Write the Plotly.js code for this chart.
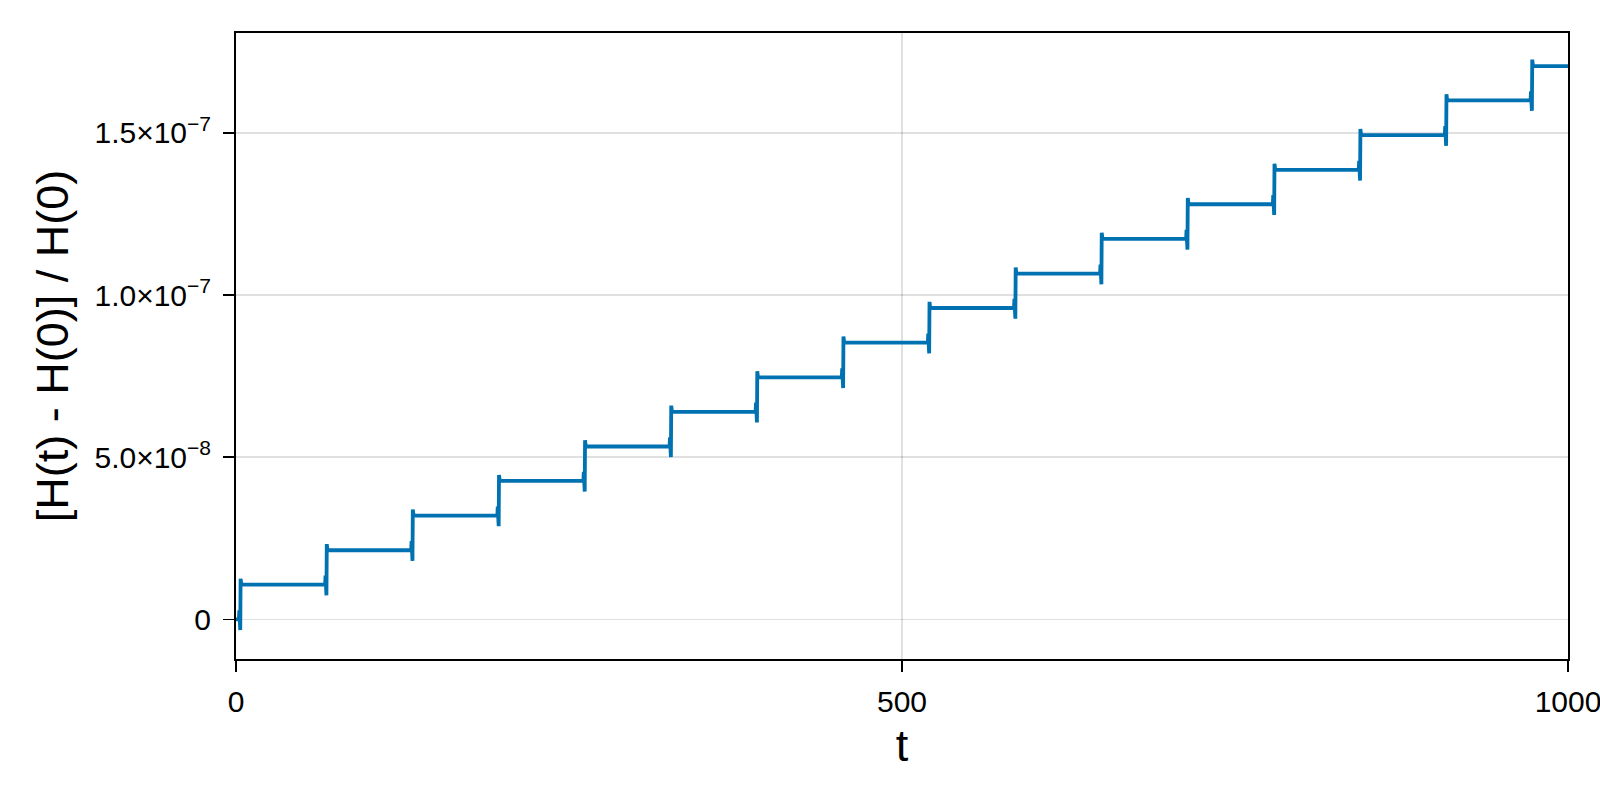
<!DOCTYPE html>
<html>
<head>
<meta charset="utf-8">
<script src="https://cdn.plot.ly/plotly-3.0.1.min.js"></script>
<style>
	html, body { margin: 0; padding: 0; background: #ffffff; }
	#energy_graph { width: 1600px; height: 800px; }
</style>
</head>
<body>
<div id="energy_graph"></div>
<script>
// Relative energy error

// time of each jump (16 jumps)
const step_times = [3.2, 67.9, 132.5, 197.2, 261.8, 326.5, 391.1, 455.8,
	520.4, 585.1, 649.7, 714.3, 779.4, 843.9, 908.5, 972.9];

// plateau levels: before the first jump, then after each jump
const levels = [0, 1.07e-8, 2.13e-8, 3.2e-8, 4.27e-8, 5.33e-8, 6.4e-8, 7.46e-8,
	8.53e-8, 9.6e-8, 1.066e-7, 1.173e-7, 1.28e-7, 1.386e-7, 1.493e-7, 1.6e-7, 1.706e-7];

// small bump just before each jump
const bump_values = [2.8e-9, 1.35e-8, 2.41e-8, 3.48e-8, 4.55e-8, 5.61e-8, 6.68e-8, 7.74e-8,
	8.81e-8, 9.88e-8, 1.094e-7, 1.201e-7, 1.308e-7, 1.414e-7, 1.521e-7, 1.628e-7];

// lowest point of each jump
const dip_values = [-3.3e-9, 7.4e-9, 1.8e-8, 2.87e-8, 3.94e-8, 5.0e-8, 6.07e-8, 7.13e-8,
	8.2e-8, 9.27e-8, 1.033e-7, 1.14e-7, 1.247e-7, 1.353e-7, 1.46e-7, 1.568e-7];

// highest point of each jump
const peak_values = [1.25e-8, 2.32e-8, 3.39e-8, 4.45e-8, 5.52e-8, 6.59e-8, 7.65e-8, 8.72e-8,
	9.79e-8, 1.085e-7, 1.192e-7, 1.299e-7, 1.405e-7, 1.512e-7, 1.619e-7, 1.726e-7];

const t_start = 0, t_end = 1000;

// tick labels
const x_ticks = [0, 500, 1000];
const x_tick_text = ["0", "500", "1000"];
const y_ticks = [0, 5e-8, 1e-7, 1.5e-7];
const y_tick_text = ["0", "5.0×10<sup>−8</sup>", "1.0×10<sup>−7</sup>", "1.5×10<sup>−7</sup>"];

function buildPath() {
	let t = [t_start],
		h = [levels[0]];
	for (let i = 0; i < step_times.length; i++) {
		const ts = step_times[i];
		t.push(ts - 1.0, ts - 0.7, ts - 0.4, ts, ts + 0.25, ts + 0.8);
		h.push(levels[i], bump_values[i], levels[i], dip_values[i], peak_values[i], levels[i + 1]);
	}
	t.push(t_end);
	h.push(levels[levels.length - 1]);
	return { t: t, h: h };
}

function plotEnergy(graph_cont) {
	const path = buildPath();
	const font_family = "'Liberation Sans', Arial, Helvetica, sans-serif";

	let data = [
			{
				x: path.t,
				y: path.h,
				type: "scatter",
				mode: "lines",
				line: { color: "#0072b2", width: 3.8 },
				hoverinfo: "skip",
			},
		],
		layout = {
			width: 1600,
			height: 800,
			paper_bgcolor: "#ffffff",
			plot_bgcolor: "#ffffff",
			showlegend: false,
			margin: { l: 236, r: 32, t: 33, b: 141, pad: 0 },
			font: { family: font_family, color: "#000000", size: 30 },
			xaxis: {
				range: [0, 1000],
				tickvals: x_ticks,
				ticktext: x_tick_text,
				ticks: "outside",
				ticklen: 11,
				tickwidth: 1.5,
				tickcolor: "#000000",
				ticklabelstandoff: 4,
				ticklabeloverflow: "allow",
				showline: true,
				linecolor: "#000000",
				linewidth: 2,
				mirror: true,
				showgrid: true,
				gridcolor: "rgba(0,0,0,0.12)",
				gridwidth: 1.5,
				zeroline: false,
				tickfont: { size: 30 },
				title: { text: "t", font: { size: 45 }, standoff: 12 },
			},
			yaxis: {
				range: [-1.223e-8, 1.808e-7],
				tickvals: y_ticks,
				ticktext: y_tick_text,
				ticks: "outside",
				ticklen: 11,
				tickwidth: 1.5,
				tickcolor: "#000000",
				ticklabelstandoff: 6,
				showline: true,
				linecolor: "#000000",
				linewidth: 2,
				mirror: true,
				showgrid: true,
				gridcolor: "rgba(0,0,0,0.12)",
				gridwidth: 1.5,
				zeroline: false,
				tickfont: { size: 30 },
				title: { text: "[H(t) - H(0)] / H(0)", font: { size: 45 }, standoff: 12 },
			},
		};

	Plotly.newPlot(graph_cont, data, layout, { staticPlot: true });
}

plotEnergy("energy_graph");
</script>
</body>
</html>
